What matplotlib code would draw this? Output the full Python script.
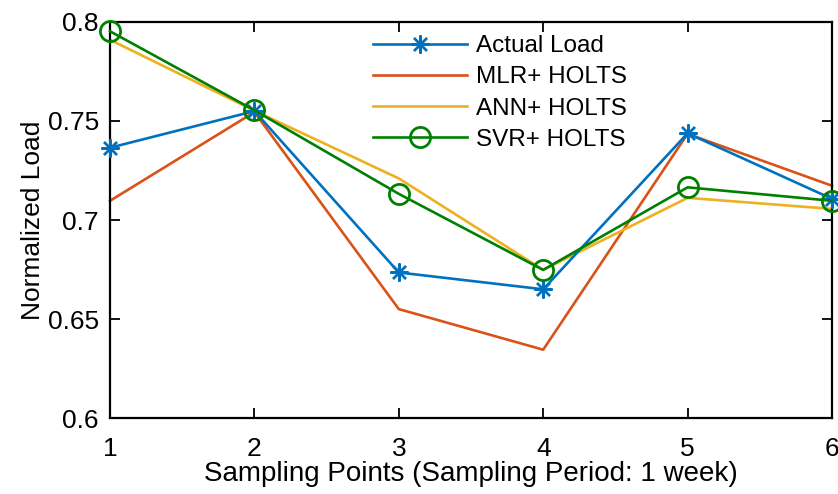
import matplotlib
matplotlib.use("Agg")
import matplotlib.pyplot as plt

plt.rcParams['font.family'] = ['Liberation Sans', 'DejaVu Sans']

# data
points = [1, 2, 3, 4, 5, 6]
actual = [0.7365, 0.7550, 0.6735, 0.6650, 0.7438, 0.7107]
mlr = [0.7097, 0.7545, 0.6550, 0.6345, 0.7435, 0.7173]
ann = [0.7910, 0.7552, 0.7210, 0.6748, 0.7112, 0.7056]
svr = [0.7953, 0.7554, 0.7132, 0.6748, 0.7165, 0.7097]

labels = ["Actual Load", "MLR+ HOLTS", "ANN+ HOLTS", "SVR+ HOLTS"]

fig = plt.figure(figsize=(8.38, 4.94), dpi=100)
ax = fig.add_axes([0.1313, 0.1538, 0.8615, 0.8017])

lw = 1.9
ax.plot(points, actual, color='#0072BD', lw=lw, marker=(8, 2, 0), ms=13,
        mew=1.7, label=labels[0], clip_on=False, zorder=5)
ax.plot(points, mlr, color='#D95319', lw=lw, label=labels[1], clip_on=False)
ax.plot(points, ann, color='#EDB120', lw=lw, label=labels[2], clip_on=False)
ax.plot(points, svr, color='#008000', lw=lw, marker='o', ms=14.5, mew=2.0,
        mfc='none', label=labels[3], clip_on=False, zorder=6)

ax.set_xlim(1, 6)
ax.set_ylim(0.6, 0.8)
ax.set_xticks(points)
ax.set_yticks([0.6, 0.65, 0.7, 0.75, 0.8])
ax.set_yticklabels(["0.6", "0.65", "0.7", "0.75", "0.8"])
ax.set_xticklabels([str(p) for p in points])
ax.tick_params(axis='x', direction='in', top=True, length=7, width=1.3,
               labelsize=19, pad=14)
ax.tick_params(axis='y', direction='in', right=True, length=7, width=1.3,
               labelsize=19, pad=8)
for s in ax.spines.values():
    s.set_linewidth(1.6)

ax.set_xlabel("Sampling Points (Sampling Period: 1 week)", fontsize=20, labelpad=0)
ax.set_ylabel("Normalized Load", fontsize=19, labelpad=2)

ax.legend(loc='upper left', bbox_to_anchor=(0.364, 0.967), frameon=False,
          fontsize=17.5, handlelength=3.87, labelspacing=0.38, handletextpad=0.37,
          borderaxespad=0, borderpad=0)

fig.savefig("out.png", dpi=100)
